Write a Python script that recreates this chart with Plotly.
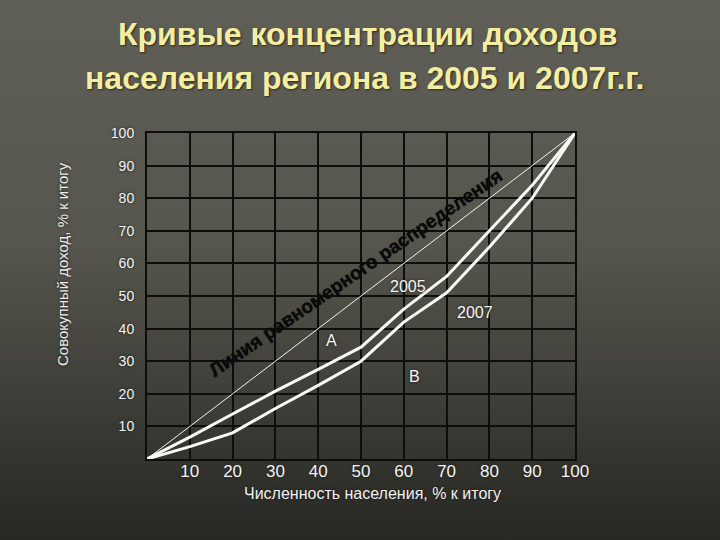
import plotly.graph_objects as go

# Data
population = [0, 10, 20, 30, 40, 50, 60, 70, 80, 90, 100]
income_2005 = [0, 6.7, 13.8, 20.8, 27.5, 34.3, 46, 56, 70, 84, 100]
income_2007 = [0, 3.8, 8, 15.5, 22.6, 30, 42, 51, 65, 80, 100]
equality = [0, 100]
x_ticks = [10, 20, 30, 40, 50, 60, 70, 80, 90, 100]
y_ticks = [10, 20, 30, 40, 50, 60, 70, 80, 90, 100]

W, H = 720, 540
L, R, T, B = 147, 145, 133, 81
pw, ph = W - L - R, H - T - B


def px(xp):
    return (xp - L) / pw


def py(yp):
    return (H - B - yp) / ph


fig = go.Figure()
fig.add_trace(go.Scatter(x=equality, y=equality, mode="lines",
                         line=dict(color="#f4f4f0", width=1), hoverinfo="skip"))
fig.add_trace(go.Scatter(x=population, y=income_2005, mode="lines",
                         line=dict(color="#f8f8f4", width=3), name="2005"))
fig.add_trace(go.Scatter(x=population, y=income_2007, mode="lines",
                         line=dict(color="#f8f8f4", width=3), name="2007"))

svg = ("data:image/svg+xml;utf8,<svg xmlns='http://www.w3.org/2000/svg' width='720' height='540'>"
       "<defs><linearGradient id='g' x1='0' y1='0' x2='0' y2='1'>"
       "<stop offset='0' stop-color='%235f5f58'/>"
       "<stop offset='0.45' stop-color='%2356564e'/>"
       "<stop offset='0.72' stop-color='%2340403a'/>"
       "<stop offset='1' stop-color='%23272723'/>"
       "</linearGradient></defs><rect width='720' height='540' fill='url(%23g)'/></svg>")

fig.add_layout_image(dict(source=svg, xref="paper", yref="paper",
                          x=-L / pw, y=1 + T / ph, sizex=W / pw, sizey=H / ph,
                          sizing="stretch", xanchor="left", yanchor="top", layer="below"))

shadow = "0px 0px 3px #1a1a18"
title_font = dict(family="Liberation Sans, Arial", size=32, color="#f3eea2",
                  weight="bold", shadow="1px 1px 2px #2a2a24")
ann = []
ann.append(dict(text="Кривые концентрации доходов", xref="paper", yref="paper",
                x=px(367), y=py(34), xanchor="center", yanchor="middle",
                showarrow=False, font=title_font))
ann.append(dict(text="населения региона в 2005 и 2007г.г.", xref="paper", yref="paper",
                x=px(364), y=py(78), xanchor="center", yanchor="middle",
                showarrow=False, font=title_font))
ann.append(dict(text="Совокупный доход, % к итогу", xref="paper", yref="paper",
                x=px(62), y=py(264), xanchor="center", yanchor="middle",
                textangle=-90, showarrow=False,
                font=dict(family="Liberation Sans, Arial", size=15, color="#ececec", shadow=shadow)))
ann.append(dict(text="Численность населения, % к итогу", xref="paper", yref="paper",
                x=px(372), y=py(493), xanchor="center", yanchor="middle", showarrow=False,
                font=dict(family="Liberation Sans, Arial", size=16, color="#f0f0f0", shadow=shadow)))
ann.append(dict(text="<b>Линия равномерного распределения</b>", x=48.8, y=57.3, textangle=-34.5,
                showarrow=False,
                font=dict(family="Liberation Sans, Arial", size=19,
                          color="#0a0a0a", shadow="0px 0px 1px #0a0a0a")))
for txt, xx, yy in [("2005", 61, 52.8), ("2007", 76.6, 44.8), ("A", 43.2, 36.2), ("B", 62.4, 25.2)]:
    ann.append(dict(text=txt, x=xx, y=yy, showarrow=False,
                    font=dict(family="Liberation Sans, Arial", size=16, color="#f6f6f2", shadow=shadow)))

fig.update_layout(
    width=W, height=H,
    margin=dict(l=L, r=R, t=T, b=B),
    paper_bgcolor="#4a4a43", plot_bgcolor="rgba(0,0,0,0)",
    showlegend=False, annotations=ann,
    xaxis=dict(range=[0, 100], tickvals=x_ticks, ticktext=[str(v) for v in x_ticks],
               showgrid=True, gridcolor="#0d0d0c", gridwidth=1.5, zeroline=False,
               showline=True, linecolor="#0d0d0c", linewidth=2, mirror=True,
               ticks="", ticklabelstandoff=-4,
               tickfont=dict(family="Liberation Sans, Arial", size=17, color="#f4f4f4", shadow=shadow)),
    yaxis=dict(range=[0, 100], tickvals=y_ticks, ticktext=[str(v) for v in y_ticks],
               showgrid=True, gridcolor="#0d0d0c", gridwidth=1.5, zeroline=False,
               showline=True, linecolor="#0d0d0c", linewidth=2, mirror=True,
               ticks="", ticklabelstandoff=8,
               tickfont=dict(family="Liberation Sans, Arial", size=14, color="#f4f4f4", shadow=shadow)),
)

fig.write_html("out.html", config={"displayModeBar": False},
               post_script="document.body.style.margin='0';document.body.style.overflow='hidden';"
                           "document.body.style.background='#272723';")
